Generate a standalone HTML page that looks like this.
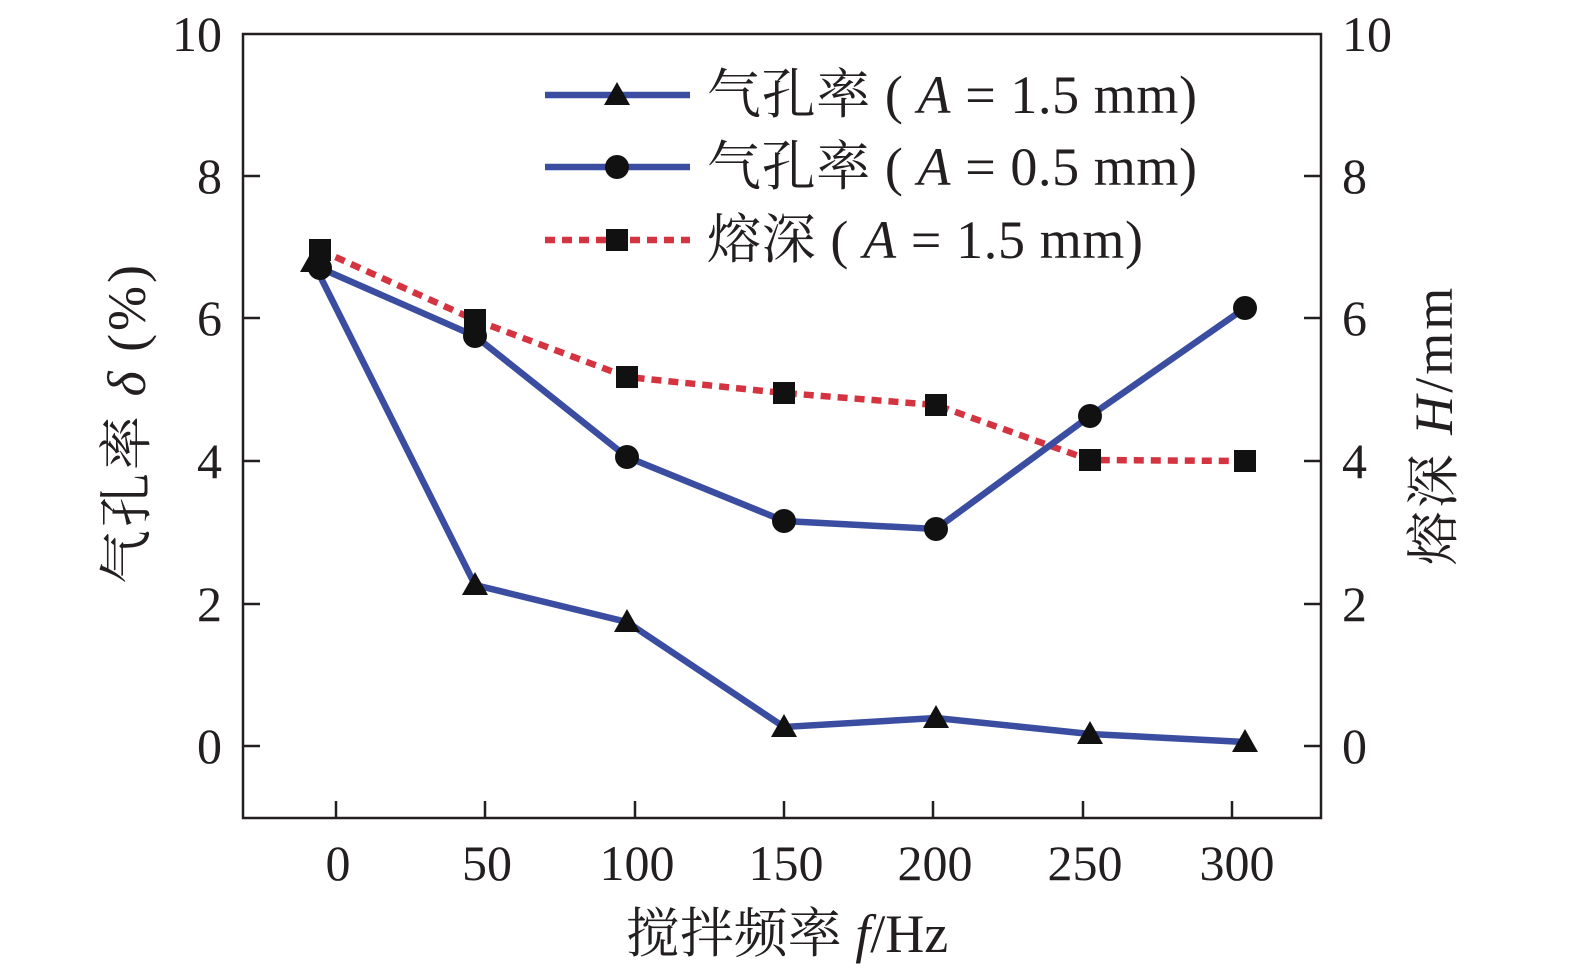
<!DOCTYPE html>
<html><head><meta charset="utf-8"><style>
html,body{margin:0;padding:0;background:#fff;}
svg{display:block;}
text{font-family:"Liberation Serif","Noto Serif CJK SC",serif;fill:#231f20;}
</style></head><body>
<svg width="1575" height="976" viewBox="0 0 1575 976" xmlns="http://www.w3.org/2000/svg">
<rect x="243" y="34" width="1078" height="784" fill="none" stroke="#231f20" stroke-width="2.5"/>
<g stroke="#231f20" stroke-width="2.5">
<line x1="243" y1="176" x2="260" y2="176"/><line x1="243" y1="318" x2="260" y2="318"/><line x1="243" y1="461" x2="260" y2="461"/><line x1="243" y1="604" x2="260" y2="604"/><line x1="243" y1="746" x2="260" y2="746"/>
<line x1="1304" y1="176" x2="1321" y2="176"/><line x1="1304" y1="318" x2="1321" y2="318"/><line x1="1304" y1="461" x2="1321" y2="461"/><line x1="1304" y1="604" x2="1321" y2="604"/><line x1="1304" y1="746" x2="1321" y2="746"/>
<line x1="336" y1="818" x2="336" y2="801"/><line x1="485" y1="818" x2="485" y2="801"/><line x1="635" y1="818" x2="635" y2="801"/><line x1="784" y1="818" x2="784" y2="801"/><line x1="933" y1="818" x2="933" y2="801"/><line x1="1083" y1="818" x2="1083" y2="801"/><line x1="1232" y1="818" x2="1232" y2="801"/>
</g>
<g font-size="50" text-anchor="end">
<text x="222" y="51">10</text><text x="222" y="193">8</text><text x="222" y="335">6</text><text x="222" y="478">4</text><text x="222" y="621">2</text><text x="222" y="763">0</text>
</g>
<g font-size="50" text-anchor="start">
<text x="1342" y="51">10</text><text x="1342" y="193">8</text><text x="1342" y="335">6</text><text x="1342" y="478">4</text><text x="1342" y="621">2</text><text x="1342" y="763">0</text>
</g>
<g font-size="50" text-anchor="middle">
<text x="338" y="880">0</text><text x="487" y="880">50</text><text x="637" y="880">100</text><text x="786" y="880">150</text><text x="935" y="880">200</text><text x="1085" y="880">250</text><text x="1237" y="880">300</text>
</g>
<text x="787" y="952" font-size="54" text-anchor="middle">搅拌频率 <tspan font-style="italic">f</tspan>/Hz</text>
<text transform="translate(145,423) rotate(-90)" font-size="54" text-anchor="middle" letter-spacing="3">气孔率 <tspan font-style="italic">δ</tspan> (%)</text>
<text transform="translate(1452,425) rotate(-90)" font-size="54" text-anchor="middle" letter-spacing="3">熔深 <tspan font-style="italic">H</tspan>/mm</text>
<polyline points="320,250 475,320 627,377 784,393 936,405 1090,460 1245,461" fill="none" stroke="#d43340" stroke-width="6.5" stroke-dasharray="10,7"/>
<polyline points="313,262 475,585 627,622 784,727 936,718 1090,734 1245,742" fill="none" stroke="#3a4da0" stroke-width="6.5"/>
<polyline points="320,268 475,336 627,457 784,521 936,529 1090,416 1245,308" fill="none" stroke="#3a4da0" stroke-width="6.5"/>
<g fill="#111">
<rect x="309" y="239" width="22" height="22"/><rect x="464" y="309" width="22" height="22"/><rect x="616" y="366" width="22" height="22"/><rect x="773" y="382" width="22" height="22"/><rect x="925" y="394" width="22" height="22"/><rect x="1079" y="449" width="22" height="22"/><rect x="1234" y="450" width="22" height="22"/>
<circle cx="320" cy="268" r="12"/><circle cx="475" cy="336" r="12"/><circle cx="627" cy="457" r="12"/><circle cx="784" cy="521" r="12"/><circle cx="936" cy="529" r="12"/><circle cx="1090" cy="416" r="12"/><circle cx="1245" cy="308" r="12"/>
<polygon points="313,249 326,272 300,272"/><polygon points="475,572 488,595 462,595"/><polygon points="627,609 640,632 614,632"/><polygon points="784,714 797,737 771,737"/><polygon points="936,705 949,728 923,728"/><polygon points="1090,721 1103,744 1077,744"/><polygon points="1245,729 1258,752 1232,752"/>
</g>
<line x1="545" y1="95" x2="690" y2="95" stroke="#3a4da0" stroke-width="6.5"/>
<polygon points="617,82 630,105 604,105" fill="#111"/>
<line x1="545" y1="167" x2="690" y2="167" stroke="#3a4da0" stroke-width="6.5"/>
<circle cx="617" cy="167" r="12" fill="#111"/>
<line x1="545" y1="240" x2="690" y2="240" stroke="#d43340" stroke-width="6.5" stroke-dasharray="10,7"/>
<rect x="606" y="229" width="22" height="22" fill="#111"/>
<g font-size="54">
<text x="707" y="113" textLength="490" lengthAdjust="spacing">气孔率 ( <tspan font-style="italic">A</tspan> = 1.5 mm)</text>
<text x="707" y="185" textLength="490" lengthAdjust="spacing">气孔率 ( <tspan font-style="italic">A</tspan> = 0.5 mm)</text>
<text x="707" y="258" textLength="436" lengthAdjust="spacing">熔深 ( <tspan font-style="italic">A</tspan> = 1.5 mm)</text>
</g>
</svg>
</body></html>
